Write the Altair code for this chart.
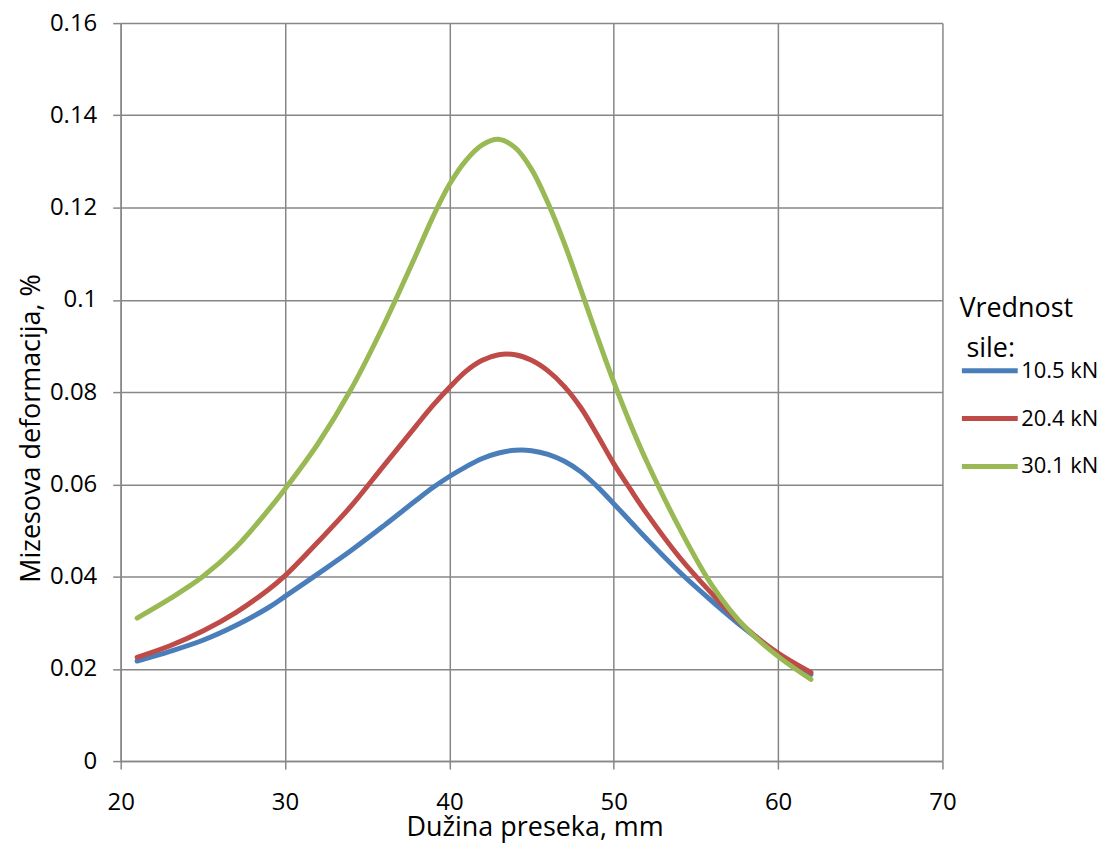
import altair as alt
import pandas as pd

x_mm = [21, 23, 25, 27, 29, 30, 32, 34, 36, 38, 39, 40, 41, 42, 43, 44, 45, 46, 47, 48, 49, 50, 51, 52, 54, 56, 58,
        60, 62]

s_105 = [0.0217, 0.0238, 0.0262, 0.0294, 0.0333, 0.0357, 0.0406, 0.0456, 0.0510, 0.0566, 0.0593, 0.0617, 0.0638,
         0.0656, 0.0668, 0.0674, 0.0673, 0.0665, 0.0650, 0.0627, 0.0595, 0.0558, 0.0520, 0.0482, 0.0410, 0.0346,
         0.0286, 0.0232, 0.0188]
s_204 = [0.0225, 0.0250, 0.0282, 0.0322, 0.0372, 0.0402, 0.0475, 0.0552, 0.0640, 0.0728, 0.0771, 0.0810, 0.0845,
         0.0869, 0.0881, 0.0881, 0.0869, 0.0846, 0.0812, 0.0766, 0.0707, 0.0645, 0.0590, 0.0537, 0.0442, 0.0362,
         0.0290, 0.0234, 0.0192]
s_301 = [0.0310, 0.0352, 0.0400, 0.0463, 0.0545, 0.0590, 0.0688, 0.0805, 0.0945, 0.1100, 0.1180, 0.1250, 0.1302,
         0.1336, 0.1348, 0.1330, 0.1283, 0.1210, 0.1122, 0.1022, 0.0920, 0.0822, 0.0732, 0.0650, 0.0505, 0.0380,
         0.0290, 0.0227, 0.0177]

series_labels = ["10.5 kN", "20.4 kN", "30.1 kN"]
series_colors = ["#4A7EBB", "#BE4B48", "#98B954"]

x_ticks = [20, 30, 40, 50, 60, 70]
y_ticks = [0, 0.02, 0.04, 0.06, 0.08, 0.1, 0.12, 0.14, 0.16]

rows = []
for lab, vals in zip(series_labels, [s_105, s_204, s_301]):
    for xv, yv in zip(x_mm, vals):
        rows.append({"x": xv, "y": yv, "sila": lab})
df = pd.DataFrame(rows)

FONT = "Open Sans"
GRID = "#878787"

chart = alt.Chart(df).mark_line(strokeWidth=5, interpolate="catmull-rom", strokeCap="round").encode(
    x=alt.X("x:Q",
            scale=alt.Scale(domain=[20, 70], nice=False, zero=False),
            axis=alt.Axis(values=x_ticks, title="Dužina preseka, mm", labelPadding=22, labelFlush=False,
                          titleX=415, titleY=75, titleBaseline="alphabetic", titleAlign="center")),
    y=alt.Y("y:Q",
            scale=alt.Scale(domain=[0, 0.16], nice=False, zero=True),
            axis=alt.Axis(values=y_ticks, format="~g", title="Mizesova deformacija, %", labelPadding=16,
                          labelFlush=False,
                          titleX=-81, titleY=406, titleAngle=270, titleBaseline="alphabetic",
                          titleAlign="center")),
    color=alt.Color("sila:N",
                    scale=alt.Scale(domain=series_labels, range=series_colors),
                    legend=alt.Legend(title=["Vrednost", "\u200b\u00a0sile:"], orient="none", legendX=841,
                                      legendY=274,
                                      symbolType="stroke", symbolStrokeWidth=5, symbolSize=3136,
                                      labelOffset=1, rowPadding=6, titlePadding=-23, padding=0)),
).properties(
    width=824, height=740,
    autosize=alt.AutoSizeParams(type="none"),
    padding={"left": 113, "top": 14, "right": 160, "bottom": 86},
).configure_view(
    stroke=None
).configure_axis(
    grid=True, gridColor=GRID, gridWidth=1.5, gridOpacity=1,
    domainColor=GRID, domainWidth=1.5,
    tickColor=GRID, tickWidth=1.5, tickSize=8,
    labelFont=FONT, labelFontSize=24, labelColor="#000000",
    titleFont=FONT, titleFontSize=27, titleFontWeight="normal", titleColor="#000000",
).configure_legend(
    titleFont=FONT, titleFontSize=27, titleFontWeight="normal", titleColor="#000000", titleLineHeight=40,
    labelFont=FONT, labelFontSize=22, labelColor="#000000",
)

chart.save("out.html", embed_options={"renderer": "svg", "actions": False})
